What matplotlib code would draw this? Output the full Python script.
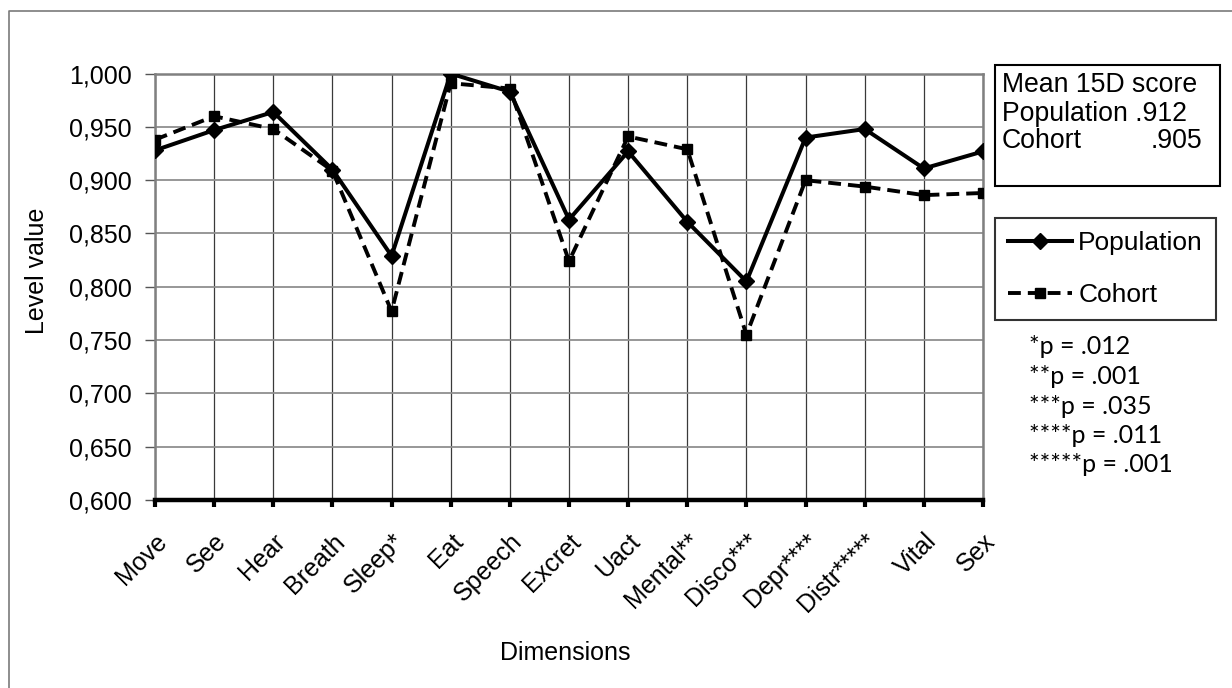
import matplotlib
matplotlib.use("Agg")
import matplotlib.pyplot as plt
import numpy as np
from matplotlib.ticker import FuncFormatter, MultipleLocator
from matplotlib.lines import Line2D
from matplotlib.patches import Rectangle

plt.rcParams['font.family'] = ['Liberation Sans', 'DejaVu Sans']

categories = ["Move", "See", "Hear", "Breath", "Sleep*", "Eat", "Speech", "Excret",
              "Uact", "Mental**", "Disco***", "Depr****", "Distr*****", "Vital", "Sex"]
population = [0.928, 0.947, 0.964, 0.910, 0.829, 1.000, 0.983, 0.863,
              0.927, 0.861, 0.805, 0.940, 0.948, 0.911, 0.927]
cohort = [0.938, 0.960, 0.948, 0.909, 0.777, 0.991, 0.986, 0.824,
          0.941, 0.929, 0.755, 0.900, 0.894, 0.886, 0.888]
series_names = ["Population", "Cohort"]
mean_title = "Mean 15D score"
mean_labels = ["Population", "Cohort"]
mean_values = [".912", ".905"]
p_notes = ["*p = .012", "**p = .001", "***p = .035", "****p = .011", "*****p = .001"]

W, H = 1232, 688
fig = plt.figure(figsize=(W / 100, H / 100), dpi=100)
fig.patch.set_facecolor("white")

def fx(px):
    return px / W

def fy(py):
    return 1 - py / H

ax = fig.add_axes([fx(155), fy(500), fx(983) - fx(155), fy(73.6) - fy(500)])
x = np.arange(len(categories))

ax.plot(x, cohort, color="black", lw=2.8, linestyle=(0, (3.3, 1.8)),
        marker="s", markersize=6.5, label=series_names[1], zorder=3)
ax.plot(x, population, color="black", lw=2.9, linestyle="-",
        marker="D", markersize=8.5, label=series_names[0], zorder=4)

ax.set_xlim(0, len(categories) - 1)
ax.set_ylim(0.6, 1.0)
ax.yaxis.set_major_locator(MultipleLocator(0.05))
ax.yaxis.set_major_formatter(FuncFormatter(lambda v, p: f"{v:.3f}".replace(".", ",")))
ax.set_xticks(x)
ax.set_xticklabels(categories, rotation=45, ha="right", va="top",
                   rotation_mode="anchor", fontsize=18)

ax.yaxis.grid(True, color="#8f8f8f", lw=1.3)
ax.xaxis.grid(True, color="#3a3a3a", lw=0.9)
ax.set_axisbelow(True)

for s in ["top", "right", "left"]:
    ax.spines[s].set_color("#808080")
    ax.spines[s].set_linewidth(1.8)
ax.spines["bottom"].set_color("black")
ax.spines["bottom"].set_linewidth(3.2)
ax.spines["bottom"].set_zorder(5)

ax.tick_params(axis="y", direction="out", length=7, width=1, color="#555555",
               labelsize=18, pad=10)
ax.tick_params(axis="x", direction="out", length=5, width=3, color="black",
               labelsize=18, pad=16)

fig.text(fx(37.5), fy(271), "Level value", rotation=90, ha="center", va="center", fontsize=18)
fig.text(fx(565), fy(653), "Dimensions", ha="center", va="center", fontsize=18)

# outer frame (left and top edges visible)
fig.add_artist(Line2D([fx(9), fx(9), 1.0], [0.0, fy(11), fy(11)],
                      transform=fig.transFigure, color="#7a7a7a", lw=1.2))

# mean score box
fig.add_artist(Rectangle((fx(995), fy(186)), fx(1220) - fx(995), fy(65) - fy(186),
                         transform=fig.transFigure, fill=False, ec="black", lw=1.5))
fig.text(fx(1002), fy(85), mean_title, ha="left", va="center", fontsize=19.2)
fig.text(fx(1002), fy(114), mean_labels[0] + " " + mean_values[0], ha="left", va="center", fontsize=19.2)
fig.text(fx(1002), fy(141), mean_labels[1], ha="left", va="center", fontsize=19.2)
fig.text(fx(1151), fy(141), mean_values[1], ha="left", va="center", fontsize=19.2)

# legend
handles, labels = ax.get_legend_handles_labels()
order = [1, 0]
leg = fig.legend([handles[i] for i in order], [labels[i] for i in order],
                 loc="upper left", bbox_to_anchor=(fx(995), fy(218)),
                 fontsize=19, frameon=True, fancybox=False, shadow=False,
                 handlelength=2.4, handletextpad=0.25, labelspacing=1.05,
                 borderpad=0.5, borderaxespad=0)
leg.get_frame().set_edgecolor("black")
leg.get_frame().set_linewidth(1.5)

for i, note in enumerate(p_notes):
    fig.text(fx(1029), fy(347 + i * 29.5), note, ha="left", va="center",
             fontsize=18, family=["Lato", "DejaVu Sans"])

fig.savefig("out.png", dpi=100, facecolor="white")
